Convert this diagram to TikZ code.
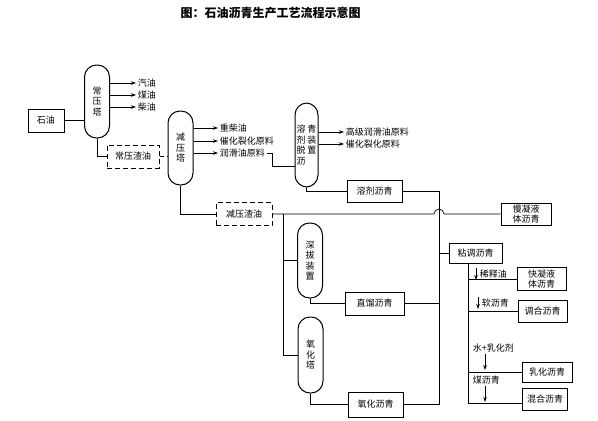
\documentclass[tikz,border=0pt]{standalone}
\usepackage{fontspec}
\setmainfont{Noto Sans CJK SC}
\usetikzlibrary{arrows.meta}

\begin{document}
\begin{tikzpicture}[x=1pt,y=-1pt,line width=0.7pt,
  font=\fontsize{9}{10.5}\selectfont,
  tower/.style={draw,line width=1pt,rounded corners=12pt,minimum width=25pt,inner sep=0pt,align=center},
  box/.style={draw,line width=1pt,inner sep=0pt,align=center},
  dbox/.style={box,dash pattern=on 5pt off 3pt},
  lbl/.style={inner sep=1.5pt,anchor=west},
  arr/.style={-{Stealth[length=5pt,width=3.5pt]}}]

  \useasboundingbox (0,0) rectangle (598,421);
  \node[font=\fontsize{12}{14}\selectfont\bfseries] (title) at (270.5,13) {图：石油沥青生产工艺流程示意图};

  \node[box,minimum width=36pt,minimum height=23pt] (oil) at (46,120.5) {石油};
  \node[tower,minimum height=73pt] (atm) at (97,101.5) {常\\压\\塔};
  \node[lbl] (gasoline) at (136,83) {汽油};
  \node[lbl] (kerosene) at (136,95) {煤油};
  \node[lbl] (diesel) at (136,107) {柴油};
  \node[dbox,minimum width=52pt,minimum height=23pt] (atmres) at (133,156.5) {常压渣油};
  \node[tower,minimum height=74pt] (vac) at (180.5,148) {减\\压\\塔};
  \node[lbl] (hdiesel) at (218,128) {重柴油};
  \node[lbl] (crack1) at (218,141) {催化裂化原料};
  \node[lbl] (lube) at (218,153) {润滑油原料};
  \node[tower,minimum width=23pt,minimum height=84pt,align=left] (sda) at (306.5,145) {溶\hspace{2pt}青\\剂\hspace{2pt}装\\脱\hspace{2pt}置\\沥};
  \node[lbl] (hlube) at (344,132) {高级润滑油原料};
  \node[lbl] (crack2) at (344,144) {催化裂化原料};
  \node[box,minimum width=55pt,minimum height=22pt] (solv) at (374.5,191) {溶剂沥青};
  \node[dbox,minimum width=56pt,minimum height=23pt] (vacres) at (244,214) {减压渣油};
  \node[box,minimum width=50pt,minimum height=22pt] (slow) at (526,214) {慢凝液\\体沥青};
  \node[tower,minimum height=75pt] (deep) at (310,260.5) {深\\拔\\装\\置};
  \node[tower,minimum height=76pt] (oxt) at (310.5,355) {氧\\化\\塔};
  \node[box,minimum width=59pt,minimum height=23pt] (straight) at (374.5,303.5) {直馏沥青};
  \node[box,minimum width=55pt,minimum height=25pt] (oxa) at (375.5,404.5) {氧化沥青};
  \node[box,minimum width=53pt,minimum height=20pt] (visc) at (475.5,253) {粘调沥青};
  \node[box,minimum width=49pt,minimum height=23pt] (fast) at (541.5,279) {快凝液\\体沥青};
  \node[box,minimum width=49pt,minimum height=22pt] (blend) at (542.5,311) {调合沥青};
  \node[box,minimum width=50pt,minimum height=20pt] (emul) at (547,372) {乳化沥青};
  \node[box,minimum width=45pt,minimum height=22pt] (mix) at (545,399.5) {混合沥青};
  \node[lbl] (diluent) at (478,274) {稀释油};
  \node[lbl] (soft) at (480,303) {软沥青};
  \node[lbl] (water) at (471,348) {水+乳化剂};
  \node[lbl] (coal) at (471,380) {煤沥青};

  \coordinate (sdain) at (295,166);
  \coordinate (bustop) at (439,191);
  \coordinate (busbot) at (439,404.5);
  \coordinate (split) at (283,214);
  \coordinate (sub) at (468,403);

  \draw (oil.east) -- (oil.east -| atm.west);
  \foreach \n in {gasoline,kerosene,diesel}
    \draw[arr] (\n.west -| atm.east) -- (\n.west);
  \draw (atm.south) |- (atmres.west);
  \draw[dash pattern=on 4pt off 3pt] (atmres.east) -- (atmres.east -| vac.west);
  \foreach \n in {hdiesel,crack1,lube}
    \draw[arr] (\n.west -| vac.east) -- (\n.west);
  \draw (lube.east) -- ++(6,0) |- (sdain);
  \foreach \n in {hlube,crack2}
    \draw[arr] (\n.west -| sda.east) -- (\n.west);
  \draw (sda.south) |- (solv.west);
  \draw (solv.east) -- (bustop) -- (busbot);
  \draw (vac.south) |- (vacres.west);
  \draw (vacres.east) -- ([xshift=-5pt]bustop |- vacres.east) arc[start angle=180,end angle=0,radius=5pt] -- (slow.west);
  \draw (split) |- (oxt.west);
  \draw (split |- deep.west) -- (deep.west);
  \draw (deep.south) |- (straight.west);
  \draw (straight.east) -- (straight.east -| bustop);
  \draw (oxt.south) |- (oxa.west);
  \draw (oxa.east) -- (busbot);
  \draw (bustop |- visc.west) -- (visc.west);
  \draw (visc.south -| sub) -- (sub) -- (sub -| mix.west);
  \foreach \n in {fast,blend,emul}
    \draw (sub |- \n.west) -- (\n.west);
  \draw[arr] ([xshift=-2pt]diluent.north west) -- ([xshift=-2pt]diluent.south west);
  \draw[arr] ([xshift=-2pt]soft.north west) -- ([xshift=-2pt]soft.south west);
  \draw[arr] ([xshift=14pt]water.south west) -- ++(0,16);
  \draw[arr] ([xshift=14pt]coal.south west) -- ++(0,16);
\end{tikzpicture}
\end{document}
